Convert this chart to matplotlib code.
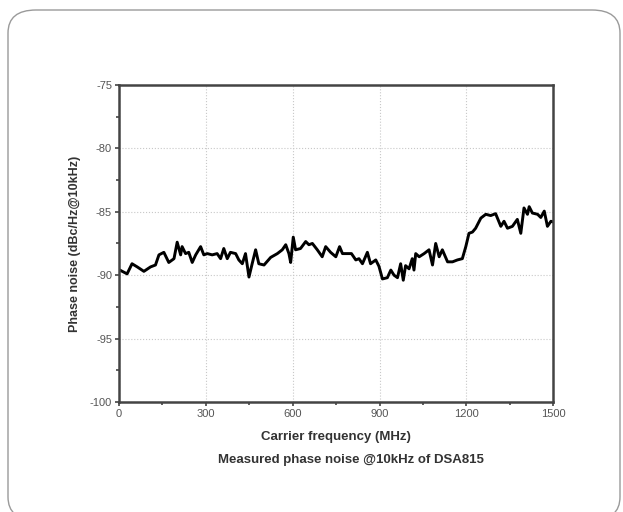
import matplotlib
matplotlib.use("Agg")
import matplotlib.pyplot as plt
from matplotlib.patches import FancyBboxPatch
from matplotlib.ticker import MultipleLocator

plt.rcParams['font.family'] = ['Liberation Sans', 'DejaVu Sans']
plt.rcParams['axes.unicode_minus'] = False

freq_mhz = [0, 3, 28, 45, 63, 86, 109, 126, 138, 155, 172, 190, 201, 213, 218, 230, 241,
            253, 265, 282, 293, 305, 322, 339, 351, 362, 374, 385, 403, 414, 426, 437,
            449, 460, 472, 483, 501, 524, 547, 564, 576, 587, 593, 602, 610, 627, 645,
            656, 668, 685, 702, 714, 731, 749, 762, 772, 789, 803, 818, 829, 841, 858,
            869, 887, 898, 910, 927, 939, 950, 962, 973, 982, 990, 1002, 1013, 1019,
            1025, 1037, 1054, 1071, 1083, 1094, 1106, 1117, 1135, 1152, 1169, 1186,
            1198, 1209, 1221, 1232, 1250, 1267, 1284, 1301, 1319, 1330, 1342, 1359,
            1376, 1388, 1399, 1411, 1417, 1428, 1446, 1457, 1469, 1480, 1492, 1500]
phase_noise = [-89.7, -89.6, -89.9, -89.1, -89.35, -89.7, -89.35, -89.2, -88.4, -88.2,
               -89.0, -88.7, -87.4, -88.4, -87.75, -88.3, -88.2, -89.0, -88.4, -87.75,
               -88.4, -88.3, -88.4, -88.3, -88.7, -87.9, -88.7, -88.2, -88.3, -88.8,
               -89.1, -88.3, -90.15, -89.1, -88.0, -89.1, -89.2, -88.6, -88.3, -88.0,
               -87.6, -88.3, -89.0, -87.0, -88.0, -87.9, -87.35, -87.6, -87.5, -88.0,
               -88.55, -87.75, -88.2, -88.55, -87.75, -88.3, -88.3, -88.3, -88.8,
               -88.7, -89.1, -88.2, -89.1, -88.8, -89.3, -90.3, -90.2, -89.6, -90.0,
               -90.2, -89.1, -90.4, -89.25, -89.5, -88.7, -89.6, -88.3, -88.55, -88.3,
               -88.0, -89.2, -87.5, -88.55, -88.0, -88.95, -88.95, -88.8, -88.7, -87.75,
               -86.7, -86.6, -86.3, -85.5, -85.2, -85.3, -85.15, -86.15, -85.75, -86.3,
               -86.15, -85.6, -86.7, -84.7, -85.2, -84.6, -85.1, -85.2, -85.45, -84.95,
               -86.15, -85.75, -85.8]

x_ticks = [0, 300, 600, 900, 1200, 1500]
y_ticks = [-100, -95, -90, -85, -80, -75]

fig = plt.figure(figsize=(6.23, 5.12), dpi=100)
fig.patch.set_facecolor('white')

frame = FancyBboxPatch((8 / 623, 1 - 520 / 512), 612 / 623, 510 / 512,
                       boxstyle="round,pad=0,rounding_size=0.045",
                       transform=fig.transFigure, facecolor='none',
                       edgecolor='#9a9a9a', linewidth=1.0)
fig.patches.append(frame)

ax = fig.add_axes([0.191, 0.215, 0.697, 0.619])
ax.plot(freq_mhz, phase_noise, color='black', linewidth=2.1)
ax.set_xlim(0, 1500)
ax.set_ylim(-100, -75)
ax.set_xticks(x_ticks)
ax.set_yticks(y_ticks)
ax.xaxis.set_minor_locator(MultipleLocator(150))
ax.yaxis.set_minor_locator(MultipleLocator(2.5))
ax.grid(True, which='major', linestyle=':', color='#c8c8c8', linewidth=0.8)
for s in ax.spines.values():
    s.set_linewidth(1.8)
    s.set_color('#444444')
ax.tick_params(which='major', direction='out', length=3, width=1.2, color='#444444',
               labelsize=8, labelcolor='#555555', pad=2)
ax.tick_params(which='minor', direction='out', length=2, width=1.2, color='#444444')
ax.set_xlabel('Carrier frequency (MHz)', fontsize=9.5, fontweight='bold', color='#333333', labelpad=9)
ax.set_ylabel('Phase noise (dBc/Hz@10kHz)', fontsize=9, fontweight='bold', color='#333333', labelpad=6)

fig.text(351 / 623, 1 - 460 / 512, 'Measured phase noise @10kHz of DSA815',
         ha='center', va='center', fontsize=9.5, fontweight='bold', color='#333333')

fig.savefig('out.png', dpi=100)
